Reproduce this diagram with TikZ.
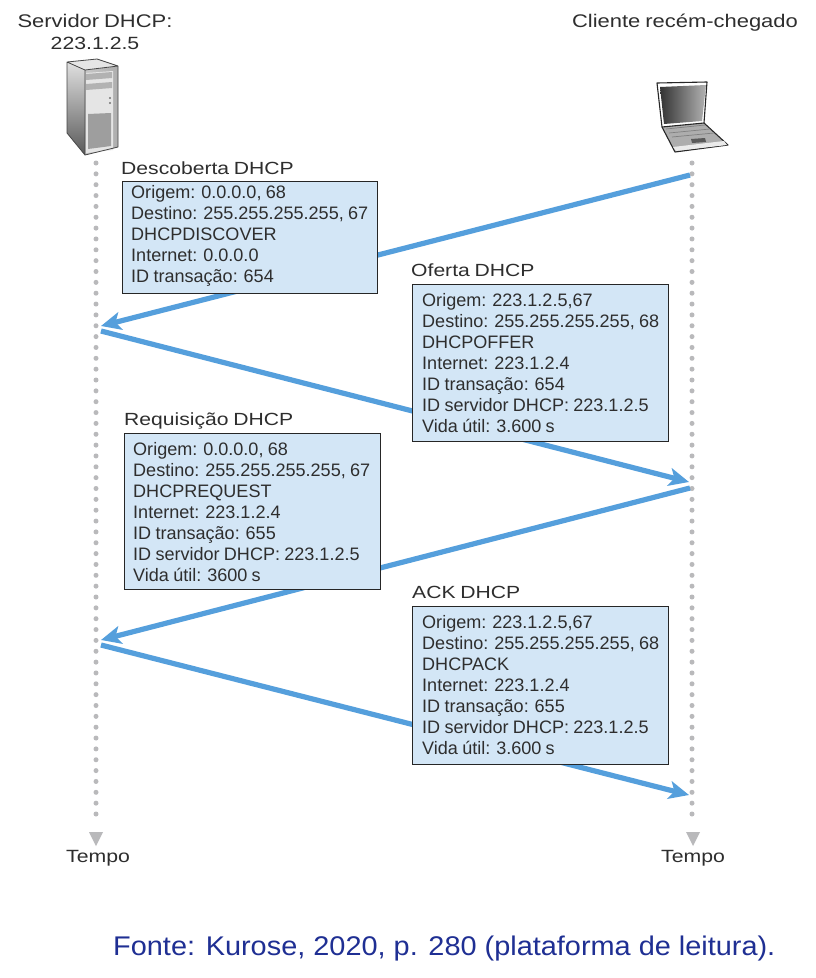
\documentclass[tikz,border=0pt]{standalone}
\usepackage{fontspec}
\setmainfont{Liberation Sans}[WordSpace=0.85]
\newfontfamily\widefont{Liberation Sans}[FakeStretch=1.2,WordSpace=0.8]
\newfontfamily\sourcefont{Liberation Sans}[FakeStretch=1.07]
\usetikzlibrary{arrows.meta}
\definecolor{boxfill}{HTML}{D3E6F6}
\definecolor{flow}{HTML}{559FDC}
\definecolor{dotgray}{HTML}{B9B9BB}
\definecolor{inktext}{HTML}{2E2E2E}
\definecolor{source}{HTML}{1F2F93}
\tikzset{
  msgbox/.style={draw=black!85,line width=0.9pt,fill=boxfill,anchor=north west,inner sep=0pt,minimum width=#1},
  msgtext/.style={anchor=north west,inner sep=0pt,align=left,text=inktext,font=\fontsize{18.05}{21}\selectfont},
  title/.style={anchor=base west,inner sep=0pt,text=inktext,font=\widefont\fontsize{17.6}{21}\selectfont},
  headtext/.style={anchor=base,inner sep=0pt,text=inktext,align=center,font=\widefont\fontsize{17.7}{23}\selectfont},
  widehead/.style={headtext,font=\widefont\fontsize{18.3}{23}\selectfont},
  timeline/.style={dotgray,line width=5pt,line cap=round,dash pattern=on 0pt off 10.85pt},
  flowline/.style={flow,line width=5.2pt,-{Stealth[length=20pt,width=18pt,inset=5pt]}},
}
\begin{document}
\begin{tikzpicture}[x=1pt,y=-1pt]
\useasboundingbox (0,0) rectangle (816,978);
\fill[white] (0,0) rectangle (816,978);

% timelines
\coordinate (ltop) at (96,163);
\coordinate (lend) at (96,822);
\coordinate (rtop) at (692,163);
\coordinate (rend) at (692,822);
\draw[timeline] (ltop) -- (lend);
\draw[timeline] (rtop) -- (rend);
\fill[dotgray] (89,832) -- (103,832) -- (96,846) -- cycle;
\fill[dotgray] (686,832) -- (700,832) -- (693,846) -- cycle;

% flows
\coordinate (a1) at (690,175); \coordinate (b1) at (101,326);
\coordinate (a2) at (101,331); \coordinate (b2) at (689,482);
\coordinate (a3) at (690,488); \coordinate (b3) at (101,640);
\coordinate (a4) at (101,645); \coordinate (b4) at (689,795);
\draw[flowline] (a1) -- (b1);
\draw[flowline] (a2) -- (b2);
\draw[flowline] (a3) -- (b3);
\draw[flowline] (a4) -- (b4);

% boxes
\node[msgbox=255pt,minimum height=112pt] (bd) at (122,181) {};
\node[msgtext] (td) at (131,185) {Origem: 0.0.0.0, 68\\Destino: 255.255.255.255, 67\\DHCPDISCOVER\\Internet: 0.0.0.0\\ID transação: 654};
\node[msgbox=256pt,minimum height=157pt] (bo) at (412,284) {};
\node[msgtext] (to) at (422,293) {Origem: 223.1.2.5,67\\Destino: 255.255.255.255, 68\\DHCPOFFER\\Internet: 223.1.2.4\\ID transação: 654\\ID servidor DHCP: 223.1.2.5\\Vida útil: 3.600 s};
\node[msgbox=256pt,minimum height=156pt] (br) at (124,433) {};
\node[msgtext] (tr) at (133,442) {Origem: 0.0.0.0, 68\\Destino: 255.255.255.255, 67\\DHCPREQUEST\\Internet: 223.1.2.4\\ID transação: 655\\ID servidor DHCP: 223.1.2.5\\Vida útil: 3600 s};
\node[msgbox=256pt,minimum height=158pt] (ba) at (412,606) {};
\node[msgtext] (ta) at (422,615) {Origem: 223.1.2.5,67\\Destino: 255.255.255.255, 68\\DHCPACK\\Internet: 223.1.2.4\\ID transação: 655\\ID servidor DHCP: 223.1.2.5\\Vida útil: 3.600 s};

% titles
\node[title] (n1) at (121,174) {Descoberta DHCP};
\node[title] (n2) at (411,276) {Oferta DHCP};
\node[title] (n3) at (124,425) {Requisição DHCP};
\node[title] (n4) at (412,598) {ACK DHCP};

% headers
\node[widehead] (h1) at (95,27) {Servidor DHCP:};
\node[headtext] (h2) at (95,49) {223.1.2.5};
\node[widehead] (h3) at (685,27) {Cliente recém-chegado};
\node[headtext] (t1) at (98,862) {Tempo};
\node[headtext] (t2) at (693,862) {Tempo};

% server
\shade[top color=black!12,bottom color=black!65] (67,62) -- (85,70) -- (85,155) -- (67,133) -- cycle;
\shade[left color=black!22,right color=black!32] (85,70) -- (118,66) -- (118,147) -- (85,155) -- cycle;
\fill[black!10] (67,62) -- (97,59) -- (118,66) -- (85,70) -- cycle;
\fill[black!10] (86,73) -- (113,71) -- (113,150) -- (86,153) -- cycle;
\fill[black!30] (86,74) -- (112,72) -- (112,78) -- (86,80) -- cycle;
\fill[black!30] (86,84) -- (112,82) -- (112,88) -- (86,90) -- cycle;
\fill[black!38] (88,114) -- (111,113) -- (111,146) -- (88,149) -- cycle;
\fill[black!55] (110,98) circle (1.1pt) (110,103) circle (1.1pt);
\draw[black!72,line width=0.8pt,line join=round] (67,62) -- (97,59) -- (118,66) -- (118,147) -- (85,155) -- (67,133) -- cycle (67,62) -- (85,70) -- (118,66) (85,70) -- (85,155);

% laptop
\fill[black!32] (662,127) -- (704,123) -- (728,145) -- (675,152) -- cycle;
\shade[left color=black!80,right color=black!30] (660,87) -- (706,85) -- (702,121) -- (664,124) -- cycle;
\draw[black!85,line width=1.1pt,line join=round] (657,83) -- (707,82) -- (704,123) -- (662,127) -- cycle;
\draw[black!85,line width=1.1pt,line join=round] (662,127) -- (675,152) -- (728,145) -- (704,123);
\fill[black!8] (673,147) -- (724,141) -- (727,145) -- (676,151) -- cycle;
\fill[black!65] (691,139) -- (705,138) -- (706,142) -- (692,143) -- cycle;
\draw[black!50,line width=0.7pt] (666,129) -- (705,125) (669,133) -- (710,129) (672,137) -- (714,133);

% source
\node[anchor=base west,inner sep=0pt,text=source,font=\sourcefont\fontsize{27}{30}\selectfont] (src) at (113,955) {Fonte: Kurose, 2020, p. 280 (plataforma de leitura).};
\end{tikzpicture}
\end{document}
